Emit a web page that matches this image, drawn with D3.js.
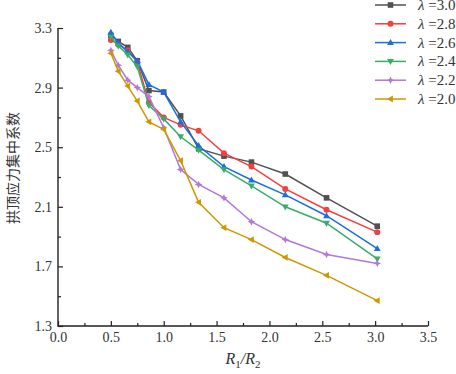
<!DOCTYPE html>
<html>
<head>
<meta charset="utf-8">
<script src="https://cdn.jsdelivr.net/npm/d3@7"></script>
<style>
body { margin: 0; background: #fff; }
#chart text { font-family: 'Liberation Serif', 'DejaVu Serif', serif; fill: #333; }
#chart text.cjk { font-family: 'Noto Sans CJK SC', sans-serif; }
</style>
</head>
<body>
<svg id="chart" width="456" height="374"></svg>
<script>
var ratio = [0.5, 0.57, 0.66, 0.75, 0.86, 1.0, 1.16, 1.33, 1.57, 1.83, 2.15, 2.54, 3.02];
var lambdas = ["3.0", "2.8", "2.6", "2.4", "2.2", "2.0"];
var k30 = [3.25, 3.21, 3.17, 3.08, 2.88, 2.87, 2.71, 2.49, 2.44, 2.40, 2.32, 2.16, 1.97];
var k28 = [3.22, 3.19, 3.15, 3.07, 2.80, 2.70, 2.65, 2.61, 2.46, 2.37, 2.22, 2.08, 1.93];
var k26 = [3.27, 3.20, 3.14, 3.08, 2.92, 2.87, 2.67, 2.51, 2.37, 2.28, 2.18, 2.04, 1.82];
var k24 = [3.24, 3.18, 3.12, 3.04, 2.78, 2.69, 2.57, 2.48, 2.35, 2.24, 2.10, 1.99, 1.75];
var k22 = [3.15, 3.05, 2.95, 2.90, 2.84, 2.63, 2.35, 2.25, 2.16, 2.00, 1.88, 1.78, 1.72];
var k20 = [3.13, 3.01, 2.91, 2.81, 2.67, 2.62, 2.41, 2.13, 1.96, 1.88, 1.76, 1.64, 1.47];
var colors = ["#515151", "#F14040", "#1A6FDF", "#37AD6B", "#B177DE", "#CC9900"];
var shapes = ["square", "circle", "up", "down", "diamond", "left"];
var xTicks = [0, 0.5, 1.0, 1.5, 2.0, 2.5, 3.0, 3.5];
var yTicks = [1.3, 1.7, 2.1, 2.5, 2.9, 3.3];

var series = [k30, k28, k26, k24, k22, k20];

var padL = 58, padR = 428, padT = 28, padB = 326;
var svg = d3.select("#chart");

var x = d3.scaleLinear().domain([0, 3.5]).range([padL, padR]);
var y = d3.scaleLinear().domain([1.3, 3.3]).range([padB, padT]);

function symbolPath(s) {
	if (s == "square") return "M-2.8,-2.8H2.8V2.8H-2.8Z";
	if (s == "circle") return d3.symbol(d3.symbolCircle, 28)();
	if (s == "up") return "M0,-3.6L3.4,2.4L-3.4,2.4Z";
	if (s == "down") return "M0,3.6L3.4,-2.4L-3.4,-2.4Z";
	if (s == "diamond") return "M0,-3.8L1.2,-1.2L3.8,0L1.2,1.2L0,3.8L-1.2,1.2L-3.8,0L-1.2,-1.2Z";
	if (s == "left") return "M-3.6,0L2.4,-3.4L2.4,3.4Z";
	return "";
}

// axes
var xAxis = d3.axisBottom(x).tickValues(xTicks).tickSize(-5)
	.tickFormat(d3.format(".1f"));
var gx = svg.append("g").attr("transform", "translate(0," + padB + ")").call(xAxis);
gx.select(".domain").remove();
var xMinor = d3.axisBottom(x).tickValues(d3.range(0.25, 3.5, 0.5)).tickSize(-3).tickFormat("");
var gxm = svg.append("g").attr("transform", "translate(0," + padB + ")").call(xMinor);
gxm.select(".domain").remove();

var yAxis = d3.axisLeft(y).tickValues(yTicks).tickSize(-5)
	.tickFormat(d3.format(".1f"));
var gy = svg.append("g").attr("transform", "translate(" + padL + ",0)").call(yAxis);
gy.select(".domain").remove();
var yMinor = d3.axisLeft(y).tickValues(d3.range(1.5, 3.3, 0.4)).tickSize(-3).tickFormat("");
var gym = svg.append("g").attr("transform", "translate(" + padL + ",0)").call(yMinor);
gym.select(".domain").remove();

svg.selectAll("g").attr("font-family", null).attr("font-size", null);
gx.selectAll("text").attr("y", 6).attr("dy", "0.71em").style("font-size", "14px");
gy.selectAll("text").attr("x", -6).style("font-size", "14px");
svg.selectAll(".tick line").attr("stroke", "#222").attr("stroke-width", 1.2);

svg.append("path")
	.attr("d", "M" + padL + "," + padT + "V" + padB + "H" + padR)
	.attr("fill", "none").attr("stroke", "#222").attr("stroke-width", 1.4);

// series
var line = d3.line()
	.x(function(d, i) { return x(ratio[i]); })
	.y(function(d) { return y(d); });

series.forEach(function(vals, si) {
	var g = svg.append("g");
	g.append("path").datum(vals)
		.attr("d", line)
		.attr("fill", "none")
		.attr("stroke", colors[si])
		.attr("stroke-width", 1.5);
	g.selectAll("path.mk").data(vals).enter()
		.append("path").attr("class", "mk")
		.attr("d", symbolPath(shapes[si]))
		.attr("fill", colors[si])
		.attr("transform", function(d, i) { return "translate(" + x(ratio[i]) + "," + y(d) + ")"; });
});

// legend
var lg = svg.append("g").attr("transform", "translate(375,5)");
lambdas.forEach(function(l, i) {
	var row = lg.append("g").attr("transform", "translate(0," + (i * 18.8) + ")");
	row.append("line").attr("x1", 0).attr("x2", 31)
		.attr("stroke", colors[i]).attr("stroke-width", 1.5);
	row.append("path").attr("d", symbolPath(shapes[i]))
		.attr("fill", colors[i]).attr("transform", "translate(15.5,0)");
	var t = row.append("text").attr("x", 43).attr("y", 5)
		.style("font-size", "15px");
	t.append("tspan").style("font-style", "italic").text("λ");
	t.append("tspan").text(" =" + l);
});

// axis titles
var xt = svg.append("text").attr("x", 243).attr("y", 364)
	.attr("text-anchor", "middle").style("font-size", "16px");
xt.append("tspan").style("font-style", "italic").text("R");
xt.append("tspan").attr("dy", 4).style("font-size", "11px").text("1");
xt.append("tspan").attr("dy", -4).style("font-style", "italic").text("/R");
xt.append("tspan").attr("dy", 4).style("font-size", "11px").text("2");

svg.append("text")
	.attr("class", "cjk")
	.attr("transform", "translate(18,168) rotate(-90)")
	.attr("text-anchor", "middle")
	.style("font-size", "14px")
	.text("拱顶应力集中系数");
</script>
</body>
</html>
